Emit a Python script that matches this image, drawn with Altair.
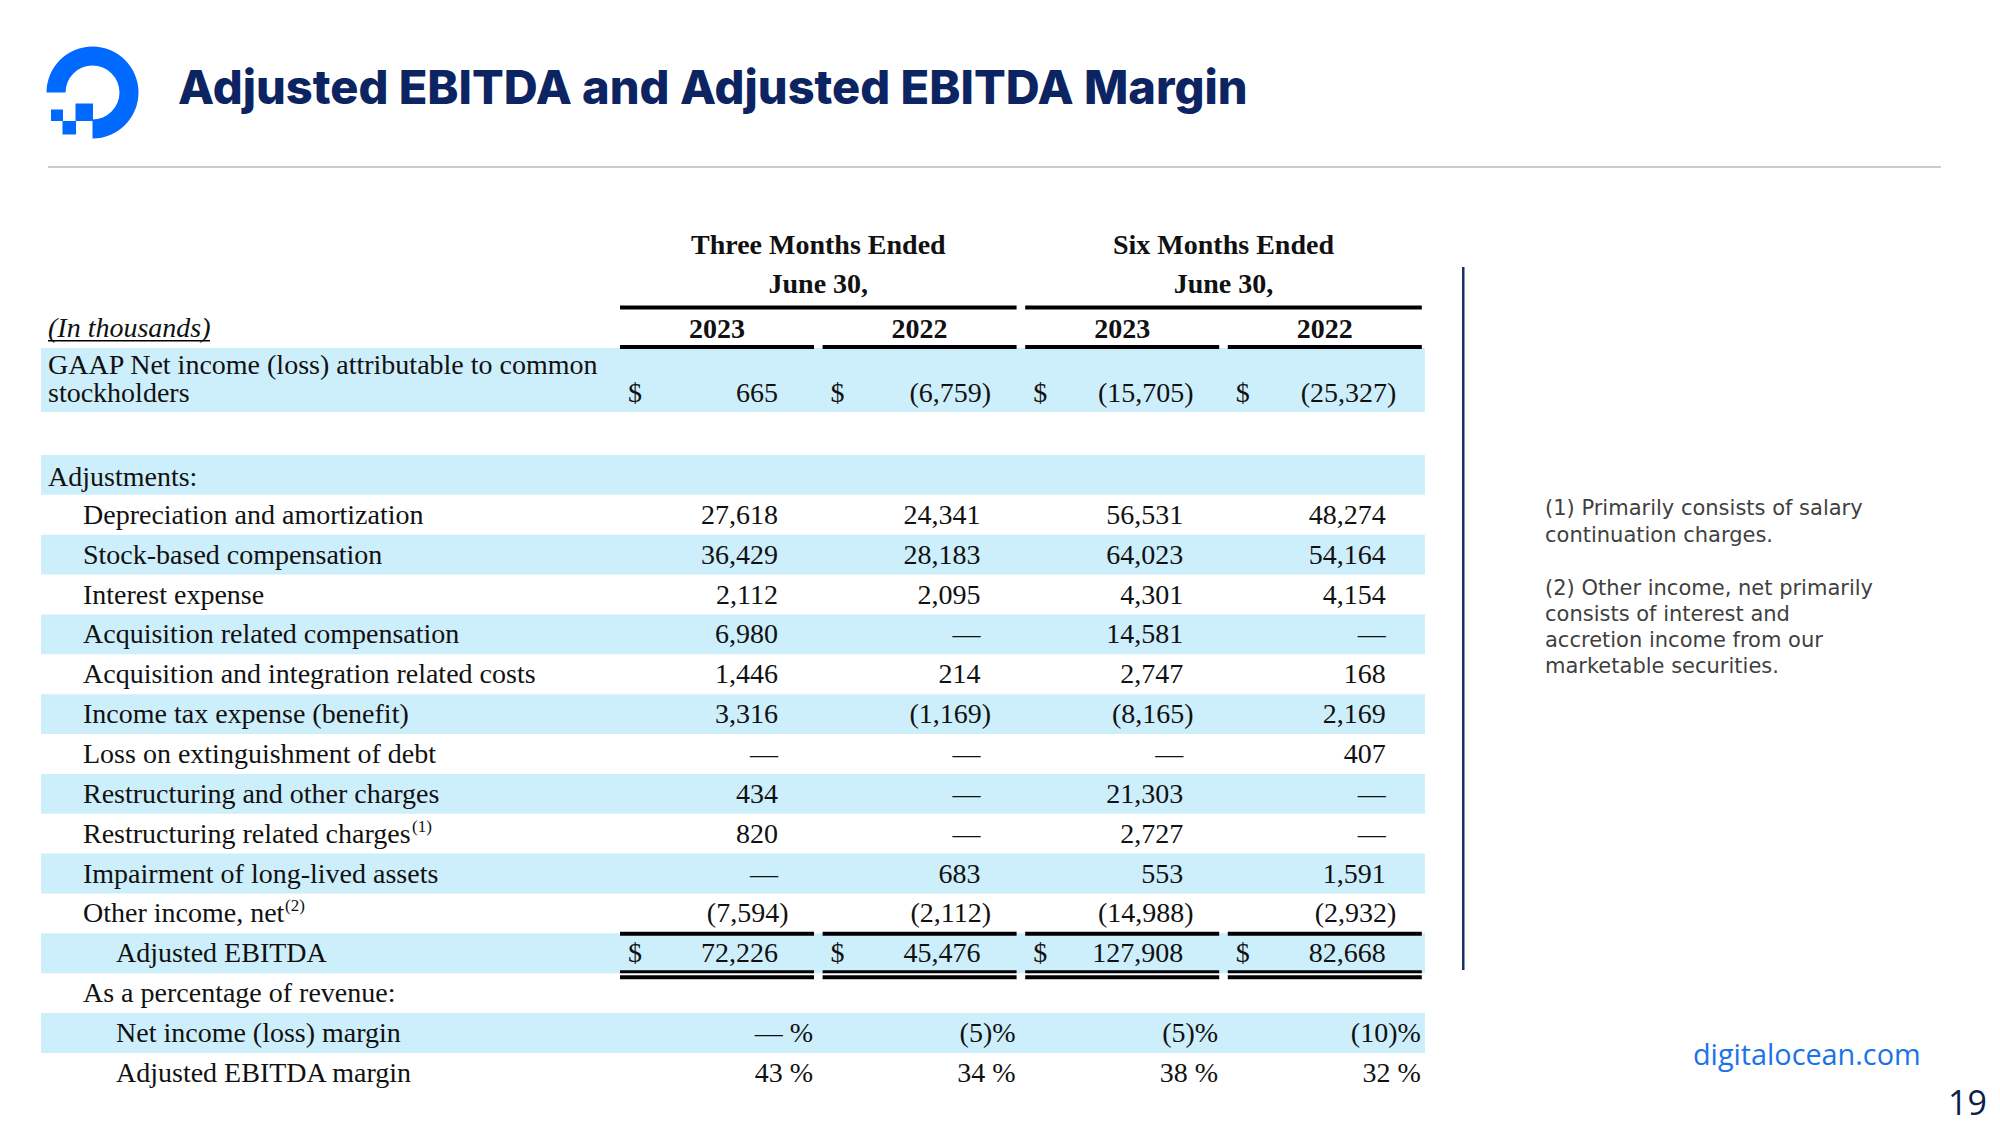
import math
import altair as alt
import pandas as pd

# ---------------- data ----------------
title = "Adjusted EBITDA and Adjusted EBITDA Margin"
period_titles = ["Three Months Ended", "Six Months Ended"]
period_sub = "June 30,"
years = ["2023", "2022", "2023", "2022"]
units_label = "(In thousands)"
gaap_label = ["GAAP Net income (loss) attributable to common", "stockholders"]
gaap_values = [665, -6759, -15705, -25327]

adj_header = "Adjustments:"
adj_labels = [
    "Depreciation and amortization",
    "Stock-based compensation",
    "Interest expense",
    "Acquisition related compensation",
    "Acquisition and integration related costs",
    "Income tax expense (benefit)",
    "Loss on extinguishment of debt",
    "Restructuring and other charges",
    "Restructuring related charges",
    "Impairment of long-lived assets",
    "Other income, net",
]
adj_footnote_refs = {8: "(1)", 10: "(2)"}
q_2023 = [27618, 36429, 2112, 6980, 1446, 3316, None, 434, 820, None, -7594]
q_2022 = [24341, 28183, 2095, None, 214, -1169, None, None, None, 683, -2112]
h_2023 = [56531, 64023, 4301, 14581, 2747, -8165, None, 21303, 2727, 553, -14988]
h_2022 = [48274, 54164, 4154, None, 168, 2169, 407, None, None, 1591, -2932]

ebitda_label = "Adjusted EBITDA"
adj_ebitda = [72226, 45476, 127908, 82668]
pct_header = "As a percentage of revenue:"
margin_labels = ["Net income (loss) margin", "Adjusted EBITDA margin"]
net_margin = [0, -5, -5, -10]
ebitda_margin = [43, 34, 38, 32]

footnotes = [
    "(1) Primarily consists of salary",
    "continuation charges.",
    "",
    "(2) Other income, net primarily",
    "consists of interest and",
    "accretion income from our",
    "marketable securities.",
]
site = "digitalocean.com"
page_no = "19"

# ---------------- layout / style ----------------
W, H = 1984, 1117
XS = alt.Scale(domain=[8, 8 + W], nice=False, zero=False)
YS = alt.Scale(domain=[8, 8 + H], nice=False, zero=False, reverse=True)
SERIF = "Liberation Serif"
SANS = "Open Sans"
FS = 28
INK = "#111111"
BAND = "#cdeefb"
NAVY = "#0c2461"

BAND_TOP0 = 455.0
PITCH = 39.86
BASE_OFF = 29.0
COL0, COL_PITCH, COL_W = 620.0, 202.6, 194.0
cols = [COL0 + COL_PITCH * i for i in range(4)]
DIGIT_R = 158.0
PAREN = 10.5
PCT_R = 193.0
INDENT = [48.0, 83.0, 116.0]


def row_top(k):
    return BAND_TOP0 + PITCH * k


def row_base(k):
    return row_top(k) + BASE_OFF


def fmt(v):
    if v is None:
        return "\u2014"
    if v < 0:
        return f"({abs(v):,})"
    return f"{v:,}"


def fmt_pct(v):
    if v == 0:
        return "\u2014 %"
    if v < 0:
        return f"({abs(v)})%"
    return f"{v} %"


def enc_xy():
    return dict(
        x=alt.X("x:Q", scale=XS, axis=None),
        y=alt.Y("y:Q", scale=YS, axis=None),
    )


def rect_layer(rows, color):
    df = pd.DataFrame(rows, columns=["x", "x2", "y", "y2"])
    return alt.Chart(df).mark_rect(color=color).encode(
        x=alt.X("x:Q", scale=XS, axis=None),
        x2="x2:Q",
        y=alt.Y("y:Q", scale=YS, axis=None),
        y2="y2:Q",
    )


def text_layer(rows, **kw):
    df = pd.DataFrame(rows, columns=["x", "y", "text"])
    base = dict(baseline="alphabetic")
    base.update(kw)
    return alt.Chart(df).mark_text(**base).encode(text="text:N", **enc_xy())


layers = []

# bands
bands = [(41, 1425, 348, 412)]
for k in range(0, 16, 2):
    bands.append((41, 1425, row_top(k), row_top(k) + PITCH))
layers.append(rect_layer(bands, BAND))

# rules (black)
rules = []
for p in range(2):
    rules.append((cols[2 * p], cols[2 * p + 1] + COL_W, 305.5, 309.5))
for c in cols:
    rules.append((c, c + COL_W, 345, 349))
    rules.append((c, c + COL_W, row_top(12) - 1.5, row_top(12) + 2.5))
    rules.append((c, c + COL_W, row_top(13) - 3, row_top(13)))
    rules.append((c, c + COL_W, row_top(13) + 2, row_top(13) + 6))
rules.append((48, 210, 340, 341.6))
layers.append(rect_layer(rules, "#000000"))

# slide rules
layers.append(rect_layer([(48, 1941, 166, 168)], "#cccccc"))
layers.append(rect_layer([(1462, 1464.5, 267, 970)], "#1b2f6b"))

# logo
arc_df = pd.DataFrame({"x": [92.5], "y": [92.5], "t0": [1.5 * math.pi], "t1": [3.0 * math.pi]})
layers.append(
    alt.Chart(arc_df)
    .mark_arc(radius=46, radius2=27, color="#0069ff")
    .encode(
        theta=alt.Theta("t0:Q", scale=alt.Scale(domain=[0, 2 * math.pi], range=[0, 2 * math.pi])),
        theta2="t1:Q",
        **enc_xy(),
    )
)
layers.append(
    rect_layer([(75.5, 93, 103.5, 121), (62.5, 76, 121, 134.5), (51, 63, 109.5, 121)], "#0069ff")
)

# title
layers.append(text_layer([(178, 104, title)], font="Inter", fontSize=47, fontWeight=800, color=NAVY, align="left"))

# header texts
hdr = []
for p in range(2):
    cx = (cols[2 * p] + cols[2 * p + 1] + COL_W) / 2
    hdr.append((cx, 254, period_titles[p]))
    hdr.append((cx, 293, period_sub))
for i, c in enumerate(cols):
    hdr.append((c + COL_W / 2, 338, years[i]))
layers.append(text_layer(hdr, font=SERIF, fontSize=FS, fontWeight="bold", color=INK, align="center"))
layers.append(text_layer([(48, 337, units_label)], font=SERIF, fontSize=FS, fontStyle="italic", color=INK, align="left"))

# left labels
lab = [(INDENT[0], 374, gaap_label[0]), (INDENT[0], 402, gaap_label[1])]
lab.append((INDENT[0], row_base(0) + 2, adj_header))
for i, t in enumerate(adj_labels):
    lab.append((INDENT[1], row_base(1 + i), t))
lab.append((INDENT[2], row_base(12), ebitda_label))
lab.append((INDENT[1], row_base(13), pct_header))
lab.append((INDENT[2], row_base(14), margin_labels[0]))
lab.append((INDENT[2], row_base(15), margin_labels[1]))
layers.append(text_layer(lab, font=SERIF, fontSize=FS, color=INK, align="left"))

# superscript footnote refs
sup_x = {8: 412, 10: 285}
sups = [(sup_x[k], row_base(1 + k) - 11, t) for k, t in adj_footnote_refs.items()]
layers.append(text_layer(sups, font=SERIF, fontSize=17, color=INK, align="left"))

# dollar signs
dollars = []
for c in cols:
    dollars.append((c + 8, 402, "$"))
    dollars.append((c + 8, row_base(12), "$"))
layers.append(text_layer(dollars, font=SERIF, fontSize=FS, color=INK, align="left"))

# numbers


def num_pos(c, v):
    return c + DIGIT_R + (PAREN if (v is not None and v < 0) else 0)


nums = []
for i, c in enumerate(cols):
    nums.append((num_pos(c, gaap_values[i]), 402, fmt(gaap_values[i])))
    col_vals = [q_2023, q_2022, h_2023, h_2022][i]
    for r, v in enumerate(col_vals):
        nums.append((num_pos(c, v), row_base(1 + r), fmt(v)))
    nums.append((num_pos(c, adj_ebitda[i]), row_base(12), fmt(adj_ebitda[i])))
    nums.append((c + PCT_R, row_base(14), fmt_pct(net_margin[i])))
    nums.append((c + PCT_R, row_base(15), fmt_pct(ebitda_margin[i])))
layers.append(text_layer(nums, font=SERIF, fontSize=FS, color=INK, align="right"))

# footnotes (right panel)
fn = []
fy = [515, 542, 568, 595, 621, 647, 673]
for t, y in zip(footnotes, fy):
    if t:
        fn.append((1545, y, t))
layers.append(text_layer(fn, font="DejaVu Sans", fontSize=21, color="#3f3f3f", align="left"))

layers.append(text_layer([(1693, 1065, site)], font=SANS, fontSize=28.8, color="#1a73e8", align="left"))
layers.append(text_layer([(1987, 1115, page_no)], font=SANS, fontSize=34, color="#0c1f4d", align="right"))

chart = (
    alt.layer(*layers)
    .properties(width=W, height=H, padding=0, autosize=alt.AutoSizeParams(type="none"), background="white")
    .configure_view(stroke=None)
)

chart.save("out.html", embed_options={"renderer": "svg", "actions": False})
